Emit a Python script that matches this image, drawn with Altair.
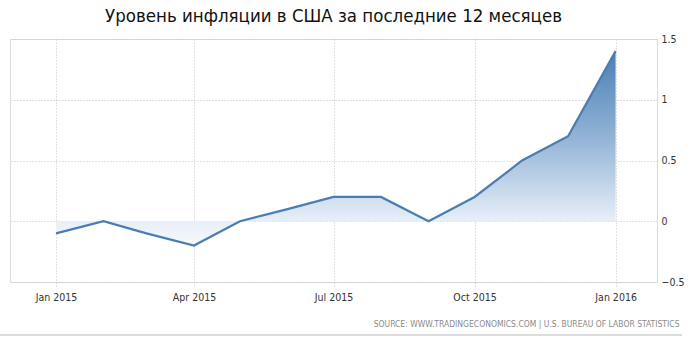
import altair as alt
import pandas as pd

dates = ["2015-01-01", "2015-02-01", "2015-03-01", "2015-04-01", "2015-05-01",
         "2015-06-01", "2015-07-01", "2015-08-01", "2015-09-01", "2015-10-01",
         "2015-11-01", "2015-12-01", "2016-01-01"]
values = [-0.1, 0.0, -0.1, -0.2, 0.0, 0.1, 0.2, 0.2, 0.0, 0.2, 0.5, 0.7, 1.4]
tick_dates = ["2015-01-01", "2015-04-01", "2015-07-01", "2015-10-01", "2016-01-01"]
y_ticks = [-0.5, 0, 0.5, 1, 1.5]
title_text = "Уровень инфляции в США за последние 12 месяцев"
source_text = "SOURCE: WWW.TRADINGECONOMICS.COM  |  U.S. BUREAU OF LABOR STATISTICS"

df = pd.DataFrame({"date": dates, "value": values})


def dt(s):
    y, m, d = (int(p) for p in s.split("-"))
    return alt.DateTime(year=y, month=m, date=d, utc=True)


x_enc = alt.X(
    "date:T",
    scale=alt.Scale(type="utc", domain=[dt("2014-12-02"), dt("2016-01-28")]),
    axis=alt.Axis(
        values=[dt(s) for s in tick_dates],
        labelExpr="utcFormat(datum.value, '%b %Y')",
        title=source_text,
        titleAnchor="end",
        titleAlign="right",
        titleX=669,
        titleY=37,
        titleFont="DejaVu Sans Condensed",
        titleFontSize=8.5,
        titleFontWeight="normal",
        titleColor="#8a8a8a",
        labelFont="DejaVu Sans Condensed",
        labelFontSize=10.5,
        labelColor="#333333",
        labelPadding=6,
        grid=True,
        gridColor="#c4c4c4",
        gridDash=[1, 2],
        domain=False,
        ticks=True,
        tickColor="#c4c4c4",
        tickDash=[1, 2],
        tickSize=4,
    ),
)

y_enc = alt.Y(
    "value:Q",
    scale=alt.Scale(domain=[-0.5, 1.5], nice=False, zero=False),
    axis=alt.Axis(
        orient="right",
        values=y_ticks,
        format="~g",
        title=None,
        labelFont="DejaVu Sans Condensed",
        labelFontSize=10.5,
        labelColor="#333333",
        labelPadding=4,
        grid=True,
        gridColor="#c4c4c4",
        gridDash=[1, 2],
        domain=False,
        ticks=False,
    ),
)

area = alt.Chart(df).mark_area(
    line=False,
    fill=alt.Gradient(
        gradient="linear",
        x1=0, y1=0, x2=0, y2=1,
        stops=[
            alt.GradientStop(offset=0, color="#4a7fb4"),
            alt.GradientStop(offset=0.45, color="#93b4d6"),
            alt.GradientStop(offset=0.877, color="#e8eff8"),
            alt.GradientStop(offset=1, color="#f6f9fc"),
        ],
    ),
).encode(x=x_enc, y=y_enc, y2=alt.datum(0))

line = alt.Chart(df).mark_line(color="#4a7db2", strokeWidth=2.2).encode(
    x="date:T", y="value:Q"
)

border = alt.Chart(df).mark_rule(color="#dddddd", strokeWidth=2).encode(
    x=alt.value(-10), x2=alt.value(672), y=alt.value(296)
)

chart = (
    alt.layer(area, line, border)
    .properties(
        width=647,
        height=243,
        autosize=alt.AutoSizeParams(type="none"),
        padding={"left": 10, "top": 39, "right": 35, "bottom": 56},
        title=alt.TitleParams(
            text=title_text,
            font="DejaVu Sans Condensed",
            fontSize=18.5,
            fontWeight="normal",
            color="#111111",
            anchor="middle",
            offset=9,
        ),
    )
    .configure_view(stroke=None)
    .configure(background="white")
)

chart.save("out.html", embed_options={"renderer": "svg", "actions": False})
